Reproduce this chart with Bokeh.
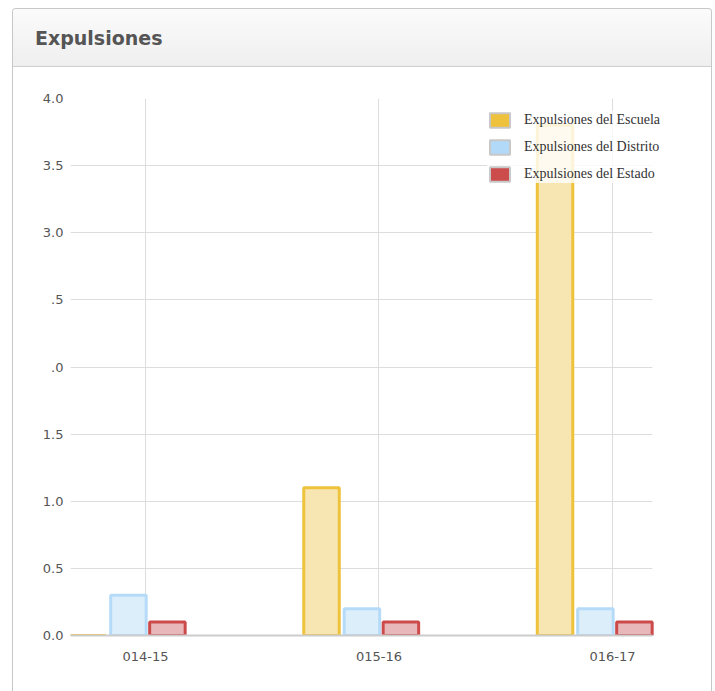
from bokeh.plotting import figure
from bokeh.layouts import column
from bokeh.models import (Range1d, FixedTicker, Legend, LegendItem,
                          ColumnDataSource, Div, BoxAnnotation)
from bokeh.embed import file_html
from bokeh.resources import INLINE
import numpy as np

# ---- data ----
title_text = "Expulsiones"
categories = ["014-15", "015-16", "016-17"]
escuela = [0.0, 1.1, 3.8]
distrito = [0.3, 0.2, 0.2]
estado = [0.1, 0.1, 0.1]
series_names = ["Expulsiones del Escuela", "Expulsiones del Distrito", "Expulsiones del Estado"]
y_ticks = [0, 0.5, 1, 1.5, 2, 2.5, 3, 3.5, 4]
y_tick_labels = ["0.0", "0.5", "1.0", "1.5", ".0", ".5", "3.0", "3.5", "4.0"]

# ---- styles ----
line_colors = ["#efc23c", "#b5dbf8", "#cc4a4a"]
fill_colors = ["#f7e6b2", "#ddeefb", "#e8b7ba"]
swatch_colors = ["#eec23c", "#b3d9f8", "#cc4b4b"]
offsets = [-0.246, -0.073, 0.094]
bar_w = 0.152
x_lo, x_plot_hi, x_frame_hi = -0.321, 2.171, 2.377

header = Div(
    text=('<div style="width:698px;height:58px;box-sizing:border-box;'
          'background:linear-gradient(#fbfbfb,#efefef);'
          'border-bottom:1px solid #cfcfcf;border-radius:4px 4px 0 0;'
          'padding-left:22px;line-height:58px;'
          'font-family:\'DejaVu Sans\';font-weight:bold;font-size:19px;'
          'color:#555555;">' + title_text + '</div>'),
    width=698, height=58, margin=0)

p = figure(width=698, height=624, output_backend="svg", toolbar_location=None,
           x_range=Range1d(x_lo, x_frame_hi), y_range=Range1d(0, 4.0),
           min_border_left=57, min_border_right=11, min_border_top=31,
           min_border_bottom=56, title=None, margin=0)
p.outline_line_color = None
p.background_fill_color = "white"
p.border_fill_color = "white"

# white mask so that the horizontal grid stops where the plot area ends
p.add_layout(BoxAnnotation(left=x_plot_hi, fill_color="white", fill_alpha=1.0,
                           line_color=None, level="underlay"))

idx = np.arange(len(categories))
for vals, off, lc, fc in zip([escuela, distrito, estado], offsets, line_colors, fill_colors):
    src = ColumnDataSource(dict(x=idx + off, top=vals))
    p.vbar(x="x", top="top", bottom=0, width=bar_w, source=src,
           fill_color=fc, line_color=lc, line_width=3)

# legend swatches (renderers with no visible points)
items = []
for name, sc in zip(series_names, swatch_colors):
    src = ColumnDataSource(dict(x=[np.nan], y=[np.nan]))
    r = p.rect(x="x", y="y", width=1, height=1, source=src, fill_color=sc,
               line_color="#c8c8c8", line_width=2)
    items.append(LegendItem(label=name, renderers=[r]))
legend = Legend(items=items, location=(417, 452), padding=8, margin=0,
                glyph_width=25, glyph_height=18, label_height=18, spacing=9,
                label_standoff=12, label_text_font="Liberation Serif",
                label_text_font_size="14px", label_text_color="#333333",
                border_line_color=None, background_fill_color="white",
                background_fill_alpha=0.8)
p.add_layout(legend)

# axes
p.xaxis.ticker = FixedTicker(ticks=list(idx))
p.xaxis.major_label_overrides = {int(i): c for i, c in zip(idx, categories)}
p.xaxis.bounds = (x_lo, x_plot_hi)
p.xaxis.axis_line_color = "#cccccc"
p.xaxis.axis_line_width = 2
p.xaxis.major_tick_line_color = None
p.xaxis.minor_tick_line_color = None
p.xaxis.major_label_standoff = 10
p.xaxis.major_label_text_font = "DejaVu Sans"
p.xaxis.major_label_text_font_size = "13px"
p.xaxis.major_label_text_color = "#555555"

p.yaxis.ticker = FixedTicker(ticks=y_ticks)
p.yaxis.major_label_overrides = dict(zip(y_ticks, y_tick_labels))
p.yaxis.axis_line_color = None
p.yaxis.major_tick_line_color = None
p.yaxis.minor_tick_line_color = None
p.yaxis.major_label_standoff = 1
p.yaxis.major_label_text_font = "DejaVu Sans"
p.yaxis.major_label_text_font_size = "13px"
p.yaxis.major_label_text_color = "#555555"

p.xgrid.ticker = FixedTicker(ticks=list(idx))
p.xgrid.grid_line_color = "#dddddd"
p.ygrid.ticker = FixedTicker(ticks=y_ticks)
p.ygrid.grid_line_color = "#dddddd"

layout = column(header, p, margin=(8, 0, 0, 12), spacing=0,
                styles={"border": "1px solid #c8c8c8", "border-bottom": "none",
                        "border-radius": "4px 4px 0 0", "background": "white"})

open("out.html", "w").write(file_html(layout, INLINE))
